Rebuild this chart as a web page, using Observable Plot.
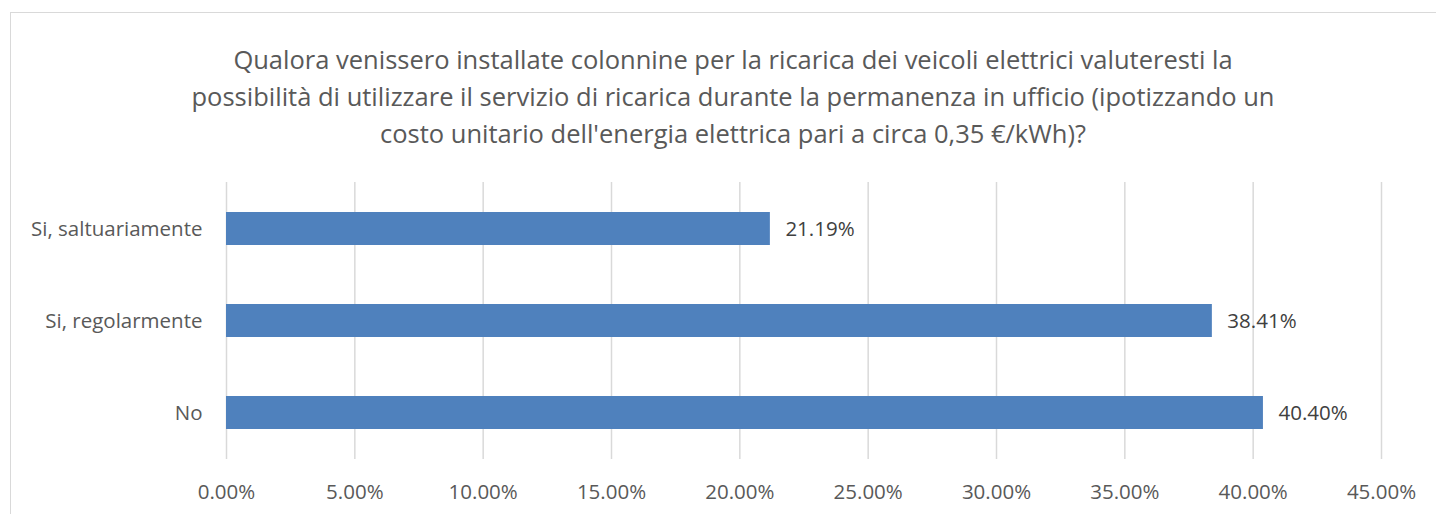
<!DOCTYPE html>
<html>
<head>
<meta charset="utf-8">
<script src="https://cdn.jsdelivr.net/npm/d3@7"></script>
<script src="https://cdn.jsdelivr.net/npm/@observablehq/plot@0.6"></script>
<style>
  html, body { margin: 0; padding: 0; background: #fff; }
  #wrap { position: relative; width: 1436px; height: 514px; overflow: hidden; font-family: "Open Sans", sans-serif; }
  #frame { position: absolute; left: 10px; top: 12px; width: 1500px; height: 600px; border-left: 1.5px solid #d9d9d9; border-top: 1.5px solid #d9d9d9; box-sizing: border-box; }
  #title { position: absolute; left: 0; width: 1466px; top: 41px; text-align: center; color: #595959; font-size: 25.5px; line-height: 37px; white-space: nowrap; }
  #chart { position: absolute; left: 0; top: 0; }
</style>
</head>
<body>
<div id="wrap">
  <div id="frame"></div>
  <div id="chart"></div>
  <div id="title">Qualora venissero installate colonnine per la ricarica dei veicoli elettrici valuteresti la<br>possibilità di utilizzare il servizio di ricarica durante la permanenza in ufficio (ipotizzando un<br>costo unitario dell'energia elettrica pari a circa 0,35 €/kWh)?</div>
</div>
<script>
const categories = ["Si, saltuariamente", "Si, regolarmente", "No"];
const values = [21.19, 38.41, 40.40];
const xTicks = [0, 5, 10, 15, 20, 25, 30, 35, 40, 45];

const data = categories.map((c, i) => ({category: c, value: values[i]}));
const fmt = d => d.toFixed(2) + "%";

const chart = Plot.plot({
  width: 1436,
  height: 514,
  marginLeft: 226,
  marginRight: 55,
  marginTop: 182,
  marginBottom: 55,
  style: {fontFamily: "Open Sans, sans-serif", fontSize: "20.5px", color: "#595959", background: "transparent", overflow: "visible"},
  x: {domain: [0, 45], ticks: xTicks, tickFormat: fmt, label: null, tickSize: 0, tickPadding: 25},
  y: {domain: categories, label: null, tickSize: 0, tickPadding: 24, paddingInner: 0.64, paddingOuter: 0.32},
  marks: [
    Plot.ruleX(xTicks, {stroke: "#d9d9d9", strokeWidth: 1.5}),
    Plot.barX(data, {y: "category", x: "value", fill: "#4f81bd"}),
    Plot.text(data, {y: "category", x: "value", text: d => fmt(d.value), textAnchor: "start", dx: 15, fill: "#404040", fontSize: 20.5})
  ]
});
document.getElementById("chart").appendChild(chart);
</script>
</body>
</html>
